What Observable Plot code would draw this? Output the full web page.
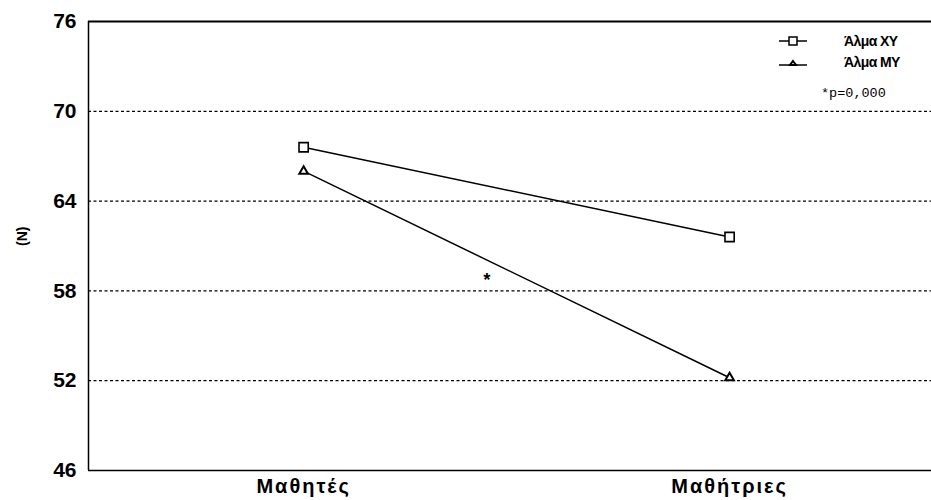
<!DOCTYPE html>
<html><head><meta charset="utf-8">
<script src="https://cdn.jsdelivr.net/npm/d3@7"></script>
<script src="https://cdn.jsdelivr.net/npm/@observablehq/plot@0.6"></script>
<style>
body{margin:0;background:#fff;}
#wrap{position:relative;width:931px;height:500px;font-family:"Liberation Sans",Arial,sans-serif;}
#wrap svg{overflow:visible;}
#legend{position:absolute;left:778px;top:30px;font-weight:bold;font-size:14px;letter-spacing:-0.6px;}
#legend .row{display:flex;align-items:center;height:21px;}
#legend .lab{margin-left:36px;}
#pval{position:absolute;left:821px;top:86px;font-family:"Liberation Mono","Courier New",monospace;font-size:13.5px;}
</style></head>
<body><div id="wrap"></div>
<script>
const categories = ["Μαθητές", "Μαθήτριες"];
const seriesNames = ["Άλμα XY", "Άλμα MY"];
const valuesXY = [67.6, 61.6];
const valuesMY = [66.0, 52.2];
const yTicks = [46, 52, 58, 64, 70, 76];
const gridValues = [52, 58, 64, 70];
const star = {pos: 0.43, value: 58.9, label: "*"};
const pText = "*p=0,000";
const yLabel = "(N)";

const data = [];
categories.forEach((c, i) => {
  data.push({series: seriesNames[0], i, v: valuesXY[i]});
  data.push({series: seriesNames[1], i, v: valuesMY[i]});
});
const xy = data.filter(d => d.series === seriesNames[0]);
const my = data.filter(d => d.series === seriesNames[1]);

const chart = Plot.plot({
  width: 931, height: 500,
  marginTop: 21, marginBottom: 30, marginLeft: 88, marginRight: 0,
  style: {fontFamily: "Liberation Sans, Arial, sans-serif", fontWeight: "bold", color: "#000", fontSize: "16px", overflow: "visible"},
  x: {type: "linear", domain: [-0.505, 1.474], label: null},
  y: {domain: [46, 76], label: null},
  marks: [
    Plot.ruleY(gridValues, {stroke: "#000", strokeWidth: 1.3, strokeDasharray: "3,2.5"}),
    Plot.ruleY([76], {stroke: "#000", strokeWidth: 2}),
    Plot.ruleY([46], {stroke: "#000", strokeWidth: 1.5}),
    Plot.ruleX([-0.505], {stroke: "#000", strokeWidth: 1.5}),
    Plot.axisY({ticks: yTicks, tickSize: 0, tickPadding: 12, label: null, fontSize: 21, fontWeight: "bold"}),
    Plot.axisX({ticks: [0, 1], tickFormat: i => categories[i], tickSize: 0, tickPadding: 8, label: null, fontSize: 20, fontWeight: "bold"}),
    Plot.line(xy, {x: "i", y: "v", stroke: "#000", strokeWidth: 1.5}),
    Plot.line(my, {x: "i", y: "v", stroke: "#000", strokeWidth: 1.5}),
    Plot.dot(xy, {x: "i", y: "v", symbol: "square", r: 5.2, fill: "#fff", stroke: "#000", strokeWidth: 1.6}),
    Plot.dot(my, {x: "i", y: "v", symbol: "triangle", r: 3.2, fill: "#fff", stroke: "#000", strokeWidth: 2}),
    Plot.text([star], {x: "pos", y: "value", text: "label", fontSize: 18, fontWeight: "bold", fill: "#000", fontFamily: "Liberation Mono, monospace", dy: 3}),
    Plot.text([yLabel], {frameAnchor: "left", dx: -66, rotate: -90, text: d => d, fontSize: 14, fontWeight: "bold", fill: "#000"})
  ]
});
const wrap = document.getElementById("wrap");
wrap.appendChild(chart);
// widen category labels a bit, as in the reference
d3.select(chart).selectAll("text").each(function() {
  if (categories.includes(this.textContent)) this.style.letterSpacing = "2px";
});

const leg = document.createElement("div");
leg.id = "legend";
seriesNames.forEach((s, k) => {
  const row = document.createElement("div");
  row.className = "row";
  const icon = k === 0
    ? '<svg width="30" height="14"><line x1="1" y1="7" x2="29" y2="7" stroke="#000" stroke-width="1.5"/><rect x="11" y="3" width="8" height="8" fill="#fff" stroke="#000" stroke-width="1.5"/></svg>'
    : '<svg width="30" height="14"><line x1="1" y1="10" x2="29" y2="10" stroke="#000" stroke-width="1.5"/><path d="M15,6 L18,10 L12,10 Z" fill="#fff" stroke="#000" stroke-width="2"/></svg>';
  row.innerHTML = icon + '<span class="lab">' + s + '</span>';
  leg.appendChild(row);
});
wrap.appendChild(leg);
const p = document.createElement("div");
p.id = "pval"; p.textContent = pText;
wrap.appendChild(p);
</script>
</body></html>
